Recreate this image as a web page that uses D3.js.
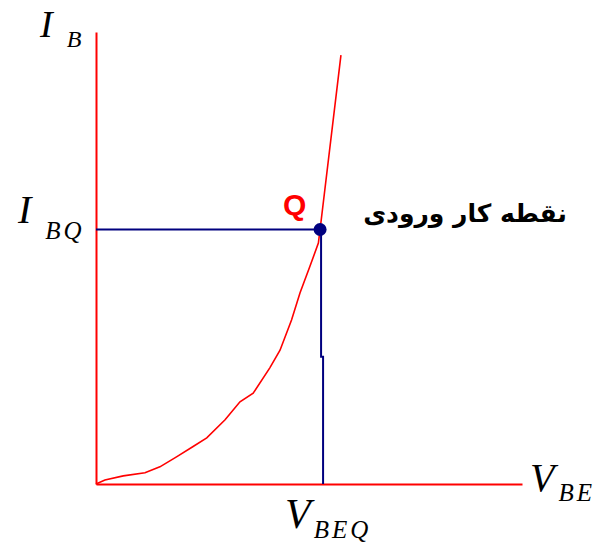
<!DOCTYPE html>
<html>
<head>
<meta charset="utf-8">
<script src="https://cdn.jsdelivr.net/npm/d3@7"></script>
<style>
  html, body { margin: 0; padding: 0; background: #fff; }
  svg { display: block; }
</style>
</head>
<body>
<svg id="chart" width="596" height="544"></svg>
<script>
// Input characteristic of a BJT: base current vs base-emitter voltage (arbitrary units)
const vbe = [0, 2.1, 6.4, 11.5, 15.0, 18.9, 22.8, 26.0, 30.3, 33.8, 36.9, 40.8, 43.2, 45.9, 47.9, 50.2, 52.2, 52.6, 57.5];
const ib  = [0, 0.9, 1.8, 2.5, 3.8, 6.0, 8.3, 10.2, 14.2, 18.2, 20.1, 25.7, 29.6, 36.3, 42.3, 48.1, 53.3, 56.3, 94.9];
// Operating point Q
const qPoint = [52.6, 56.3];
const qLabel = "Q";
const qCaption = "نقطه کار ورودی";

const svg = d3.select("#chart");
const x = d3.scaleLinear().domain([0, 100]).range([96, 522]);
const y = d3.scaleLinear().domain([0, 100]).range([484, 32]);

const red = "#ff0000", navy = "#00007f";

// Axes (domain lines only, no ticks)
svg.append("g").attr("transform", `translate(0,${y(0)})`)
  .call(d3.axisBottom(x).tickValues([]).tickSizeOuter(0))
  .select(".domain").attr("stroke", red).attr("stroke-width", 2);
svg.append("g").attr("transform", `translate(${x(0)},0)`)
  .call(d3.axisLeft(y).tickValues([]).tickSizeOuter(0))
  .select(".domain").attr("stroke", red).attr("stroke-width", 2);

// Projection lines from Q to the axes
svg.append("line")
  .attr("x1", x(0)).attr("y1", y(qPoint[1]))
  .attr("x2", x(qPoint[0])).attr("y2", y(qPoint[1]))
  .attr("stroke", navy).attr("stroke-width", 2);
const qx = x(qPoint[0]), qy = y(qPoint[1]), midY = y(qPoint[1] * 0.5);
svg.append("path")
  .attr("fill", "none").attr("stroke", navy).attr("stroke-width", 2)
  .attr("d", `M${qx + 1},${qy}V${midY}H${qx + 3}V${y(0)}`);

// Characteristic curve
const pts = vbe.map((v, i) => [v, ib[i]]);
svg.append("path")
  .datum(pts)
  .attr("fill", "none")
  .attr("stroke", red)
  .attr("stroke-width", 1.6)
  .attr("d", d3.line().x(d => x(d[0])).y(d => y(d[1])));

// Q marker
svg.append("circle")
  .attr("cx", qx).attr("cy", qy)
  .attr("r", 6.5).attr("fill", navy);

// Labels
const serif = "'Liberation Serif', 'Times New Roman', serif";

function axisLabel(px, py, main, sub, size, subSize, subDx, subDy) {
  const t = svg.append("text").attr("x", px).attr("y", py)
    .attr("font-family", serif).attr("font-style", "italic")
    .attr("font-size", size).attr("fill", "#000");
  t.append("tspan").text(main);
  t.append("tspan").attr("font-size", subSize).attr("letter-spacing", 3)
    .attr("dx", subDx).attr("dy", subDy).text(sub);
}
axisLabel(40, 37, "I", "B", 38, 24, 14, 10);
axisLabel(18, 223, "I", "BQ", 40, 25, 14, 16);
axisLabel(285, 528, "V", "BEQ", 42, 25, 3, 10);
axisLabel(530, 491, "V", "BE", 40, 25, 4, 10);

svg.append("text")
  .attr("x", qx - 37).attr("y", qy - 15)
  .attr("font-family", "'Liberation Sans', Arial, sans-serif")
  .attr("font-weight", "bold").attr("font-size", 30)
  .attr("fill", red).text(qLabel);

svg.append("text")
  .attr("x", 567).attr("y", 222)
  .attr("direction", "rtl").attr("text-anchor", "start")
  .attr("font-family", "'DejaVu Sans', sans-serif")
  .attr("font-weight", "bold").attr("font-size", 25)
  .attr("fill", "#000").text(qCaption);
</script>
</body>
</html>
